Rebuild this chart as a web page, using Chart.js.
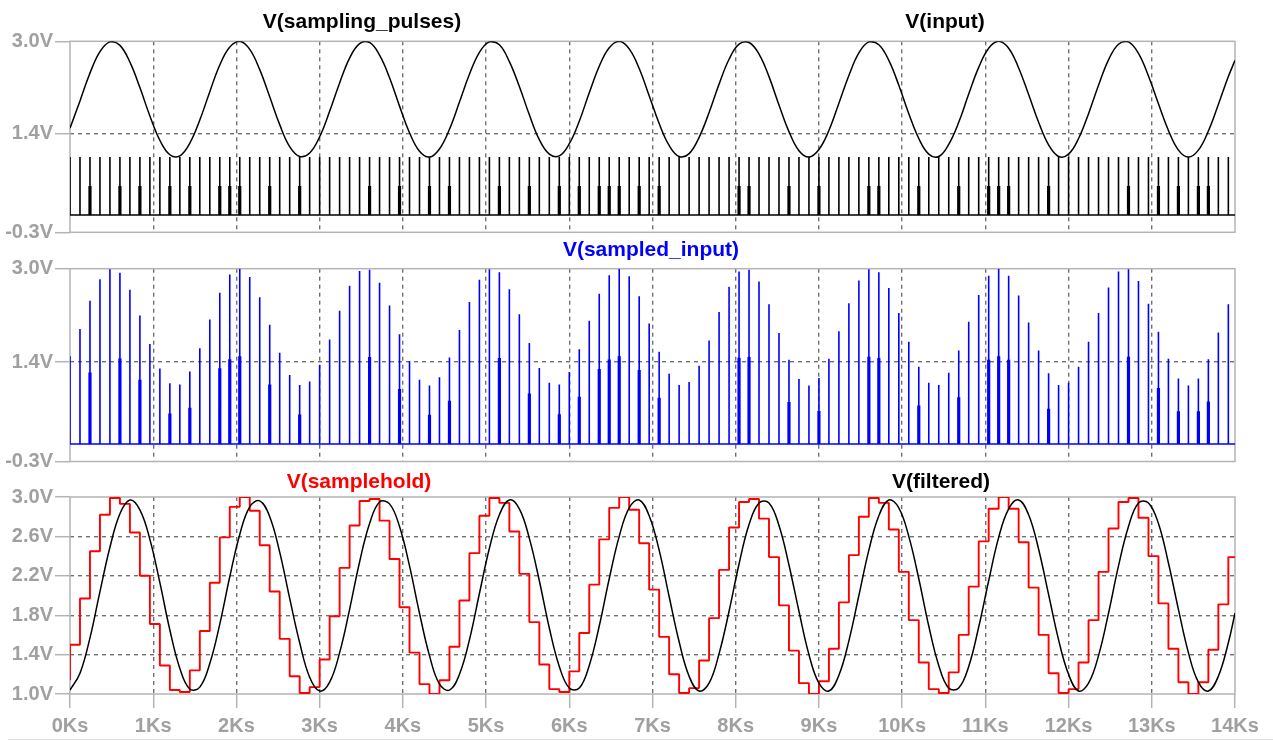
<!DOCTYPE html>
<html>
<head>
<meta charset="utf-8">
<script src="https://cdn.jsdelivr.net/npm/chart.js@4.4.1/dist/chart.umd.min.js"></script>
<style>
  html, body { margin: 0; padding: 0; background: #ffffff; }
  #wrap { position: relative; width: 1273px; height: 740px; overflow: hidden; background: #ffffff; }
  canvas.panel { position: absolute; left: 0; top: 0; }
  .title { position: absolute; font: bold 21px "Liberation Sans", Arial, sans-serif; line-height: 21px;
           white-space: nowrap; transform: translateX(-50%); }
  #rule { position: absolute; left: 8px; right: 0; top: 739px; height: 1px; background: #e2e2e2; }
</style>
</head>
<body>
<div id="wrap">
  <canvas id="c1" class="panel" width="1273" height="740"></canvas>
  <canvas id="c2" class="panel" width="1273" height="740"></canvas>
  <canvas id="c3" class="panel" width="1273" height="740"></canvas>
  <div class="title" style="left:362px;top:10px;color:#000">V(sampling_pulses)</div>
  <div class="title" style="left:945px;top:10px;color:#000">V(input)</div>
  <div class="title" style="left:651px;top:238px;color:#0000ff">V(sampled_input)</div>
  <div class="title" style="left:359px;top:470px;color:#ff0000">V(samplehold)</div>
  <div class="title" style="left:941px;top:470px;color:#000">V(filtered)</div>
  <div id="rule"></div>
</div>
<script>
// Sample instants (Ks), one sampling pulse each
const TIME_KS = [
  0, 0.12, 0.24, 0.36, 0.48, 0.6, 0.72, 0.84, 0.96, 1.08,
  1.2, 1.32, 1.44, 1.56, 1.68, 1.8, 1.92, 2.04, 2.16, 2.28,
  2.4, 2.52, 2.64, 2.76, 2.88, 3, 3.12, 3.24, 3.36, 3.48,
  3.6, 3.72, 3.84, 3.96, 4.08, 4.2, 4.32, 4.44, 4.56, 4.68,
  4.8, 4.92, 5.04, 5.16, 5.28, 5.4, 5.52, 5.64, 5.76, 5.88,
  6, 6.12, 6.24, 6.36, 6.48, 6.6, 6.72, 6.84, 6.96, 7.08,
  7.2, 7.32, 7.44, 7.56, 7.68, 7.8, 7.92, 8.04, 8.16, 8.28,
  8.4, 8.52, 8.64, 8.76, 8.88, 9, 9.12, 9.24, 9.36, 9.48,
  9.6, 9.72, 9.84, 9.96, 10.08, 10.2, 10.32, 10.44, 10.56, 10.68,
  10.8, 10.92, 11.04, 11.16, 11.28, 11.4, 11.52, 11.64, 11.76, 11.88,
  12, 12.12, 12.24, 12.36, 12.48, 12.6, 12.72, 12.84, 12.96, 13.08,
  13.2, 13.32, 13.44, 13.56, 13.68, 13.8, 13.92
];
const T_END = 14;

// V(input) at each sample instant (also the sampled / held values)
const SAMPLED_INPUT = [
  1.50, 1.97, 2.45, 2.82, 2.99, 2.93, 2.64, 2.20, 1.71, 1.29,
  1.04, 1.02, 1.24, 1.64, 2.13, 2.59, 2.90, 3.00, 2.86, 2.51,
  2.04, 1.56, 1.18, 1.01, 1.07, 1.35, 1.79, 2.28, 2.71, 2.96,
  2.98, 2.76, 2.37, 1.88, 1.42, 1.10, 1.00, 1.14, 1.48, 1.95,
  2.43, 2.81, 2.99, 2.94, 2.65, 2.22, 1.73, 1.30, 1.05, 1.02,
  1.23, 1.62, 2.11, 2.57, 2.89, 3.00, 2.87, 2.53, 2.06, 1.58,
  1.20, 1.01, 1.06, 1.34, 1.77, 2.26, 2.69, 2.95, 2.98, 2.78,
  2.39, 1.90, 1.44, 1.11, 1.00, 1.13, 1.46, 1.93, 2.41, 2.80,
  2.99, 2.94, 2.67, 2.24, 1.75, 1.32, 1.05, 1.01, 1.22, 1.60,
  2.09, 2.55, 2.88, 3.00, 2.88, 2.54, 2.08, 1.60, 1.21, 1.01,
  1.05, 1.32, 1.75, 2.24, 2.68, 2.95, 2.99, 2.79, 2.40, 1.92,
  1.46, 1.12, 1.00, 1.12, 1.45, 1.91, 2.39
];
const INPUT_END = 2.67;          // V(input) at 14Ks

// V(filtered) at each sample instant
const FILTERED = [
  1.04, 1.21, 1.57, 2.04, 2.49, 2.83, 2.97, 2.87, 2.57, 2.13,
  1.65, 1.26, 1.05, 1.07, 1.31, 1.71, 2.19, 2.62, 2.90, 2.96,
  2.80, 2.44, 1.97, 1.52, 1.17, 1.03, 1.12, 1.42, 1.86, 2.34,
  2.73, 2.95, 2.93, 2.70, 2.30, 1.82, 1.39, 1.10, 1.04, 1.20,
  1.55, 2.02, 2.48, 2.82, 2.97, 2.88, 2.58, 2.15, 1.67, 1.28,
  1.06, 1.06, 1.29, 1.69, 2.17, 2.60, 2.89, 2.97, 2.81, 2.46,
  1.99, 1.53, 1.18, 1.03, 1.11, 1.41, 1.84, 2.32, 2.72, 2.94,
  2.94, 2.71, 2.31, 1.84, 1.40, 1.11, 1.03, 1.19, 1.54, 2.00,
  2.46, 2.81, 2.97, 2.89, 2.60, 2.17, 1.69, 1.29, 1.06, 1.06,
  1.28, 1.68, 2.15, 2.59, 2.88, 2.97, 2.82, 2.47, 2.01, 1.55,
  1.20, 1.03, 1.11, 1.39, 1.82, 2.30, 2.70, 2.94, 2.94, 2.73,
  2.33, 1.86, 1.42, 1.12, 1.03, 1.18, 1.52
];
const FILTERED_END = 1.82;       // V(filtered) at 14Ks

const PULSE_HEIGHT = 1.0;        // V(sampling_pulses) high level
const HOLD_START = 1.14;         // V(samplehold) before the first sample

// Pulses whose lower half is drawn doubled on screen
const DOUBLED_PULSES = [2, 5, 7, 10, 12, 15, 16, 17, 20, 23, 30, 33, 36, 38, 43, 46, 49, 51, 53, 54,
  55, 57, 59, 67, 68, 72, 75, 80, 81, 85, 89, 92, 93, 94, 98, 106, 109, 111, 113, 114];

const X_TICKS = [0, 1, 2, 3, 4, 5, 6, 7, 8, 9, 10, 11, 12, 13, 14];
const Y_TICKS_PULSE = [-0.3, 1.4, 3.0];
const Y_TICKS_FILTER = [1.0, 1.4, 1.8, 2.2, 2.6, 3.0];

// ---- styling ----
const FONT = { family: '"Liberation Sans", Arial, sans-serif', size: 20, weight: 'bold' };
const LABEL_COLOR = '#a0a0a0';
const FRAME_COLOR = '#b4b4b4';
const GRID_COLOR = '#707070';
const PLOT_LEFT = 70, PLOT_RIGHT = 1235, PAGE_H = 740;

const framePlugin = {
  id: 'frame',
  beforeDatasetsDraw(chart) {
    const a = chart.chartArea, ctx = chart.ctx;
    ctx.save();
    ctx.strokeStyle = FRAME_COLOR;
    ctx.lineWidth = 1.5;
    ctx.strokeRect(a.left, a.top, a.right - a.left, a.bottom - a.top);
    ctx.restore();
  }
};

// spike train: baseline with a vertical excursion at each sample instant
function spikeTrain(heights) {
  const pts = [];
  TIME_KS.forEach((t, i) => {
    pts.push({ x: t, y: 0 }, { x: t, y: heights[i] }, { x: t, y: 0 });
  });
  pts.push({ x: T_END, y: 0 });
  return pts;
}
function doubledHalves(heights) {
  const pts = [];
  DOUBLED_PULSES.forEach(i => {
    pts.push({ x: TIME_KS[i], y: 0 }, { x: TIME_KS[i], y: heights[i] / 2 }, { x: TIME_KS[i], y: null });
  });
  return pts;
}
function curve(values, endValue) {
  const pts = TIME_KS.map((t, i) => ({ x: t, y: values[i] }));
  pts.push({ x: T_END, y: endValue });
  return pts;
}

function edgeTransparent(min, max) {
  return ctx => {
    const v = ctx.tick ? ctx.tick.value : null;
    return (v !== null && (Math.abs(v - min) < 1e-6 || Math.abs(v - max) < 1e-6)) ? 'rgba(0,0,0,0)' : GRID_COLOR;
  };
}

function makeChart(id, top, bottom, yMin, yMax, yTicks, showX, datasets) {
  const xAxisH = showX ? 40 : 0;
  return new Chart(document.getElementById(id), {
    type: 'line',
    data: { datasets },
    options: {
      responsive: false,
      animation: false,
      events: [],
      layout: { padding: { left: 0, right: 1273 - PLOT_RIGHT, top: top, bottom: PAGE_H - bottom - xAxisH } },
      plugins: { legend: { display: false }, tooltip: { enabled: false } },
      elements: { point: { radius: 0 }, line: { borderJoinStyle: 'bevel' } },
      scales: {
        x: {
          type: 'linear', min: 0, max: T_END,
          afterBuildTicks: s => { s.ticks = X_TICKS.map(v => ({ value: v })); },
          afterFit: s => { s.height = xAxisH; },
          border: { display: false, dash: [4, 4] },
          grid: {
            color: edgeTransparent(0, T_END), lineWidth: 1.4,
            drawTicks: showX, tickLength: 14, tickColor: FRAME_COLOR, tickWidth: 1.5, tickBorderDash: []
          },
          ticks: { display: showX, font: FONT, color: LABEL_COLOR, padding: 6, maxRotation: 0,
                   callback: v => v + 'Ks' }
        },
        y: {
          type: 'linear', min: yMin, max: yMax,
          afterBuildTicks: s => { s.ticks = yTicks.map(v => ({ value: v })); },
          afterFit: s => { s.width = PLOT_LEFT; },
          border: { display: false, dash: [4, 4] },
          grid: {
            color: edgeTransparent(yMin, yMax), lineWidth: 1.4,
            drawTicks: true, tickLength: 15, tickColor: FRAME_COLOR, tickWidth: 1.5, tickBorderDash: []
          },
          ticks: { font: FONT, color: LABEL_COLOR, padding: 2, callback: v => v.toFixed(1) + 'V' }
        }
      }
    },
    plugins: [framePlugin]
  });
}

const PULSE_HEIGHTS = TIME_KS.map(() => PULSE_HEIGHT);

// Panel 1: V(input) and V(sampling_pulses)
makeChart('c1', 41.3, 232.3, -0.3, 3.0, Y_TICKS_PULSE, false, [
  { data: curve(SAMPLED_INPUT, INPUT_END), borderColor: '#000000', borderWidth: 1.5, tension: 0.4 },
  { data: spikeTrain(PULSE_HEIGHTS), borderColor: '#000000', borderWidth: 1.6, tension: 0 },
  { data: doubledHalves(PULSE_HEIGHTS), borderColor: '#000000', borderWidth: 3.2, tension: 0, spanGaps: false }
]);

// Panel 2: V(sampled_input)
makeChart('c2', 268.7, 461.5, -0.3, 3.0, Y_TICKS_PULSE, false, [
  { data: spikeTrain(SAMPLED_INPUT), borderColor: '#0000ff', borderWidth: 1.6, tension: 0 },
  { data: doubledHalves(SAMPLED_INPUT), borderColor: '#0000ff', borderWidth: 3.2, tension: 0, spanGaps: false }
]);

// Panel 3: V(filtered) over V(samplehold)
const holdPoints = [{ x: 0, y: HOLD_START }]
  .concat(TIME_KS.map((t, i) => ({ x: t, y: SAMPLED_INPUT[i] })))
  .concat([{ x: T_END, y: SAMPLED_INPUT[SAMPLED_INPUT.length - 1] }]);
makeChart('c3', 497, 694, 1.0, 3.0, Y_TICKS_FILTER, true, [
  { data: curve(FILTERED, FILTERED_END), borderColor: '#000000', borderWidth: 1.5, tension: 0.4 },
  { data: holdPoints, borderColor: '#ff0000', borderWidth: 1.9, stepped: true, tension: 0 }
]);
</script>
</body>
</html>
